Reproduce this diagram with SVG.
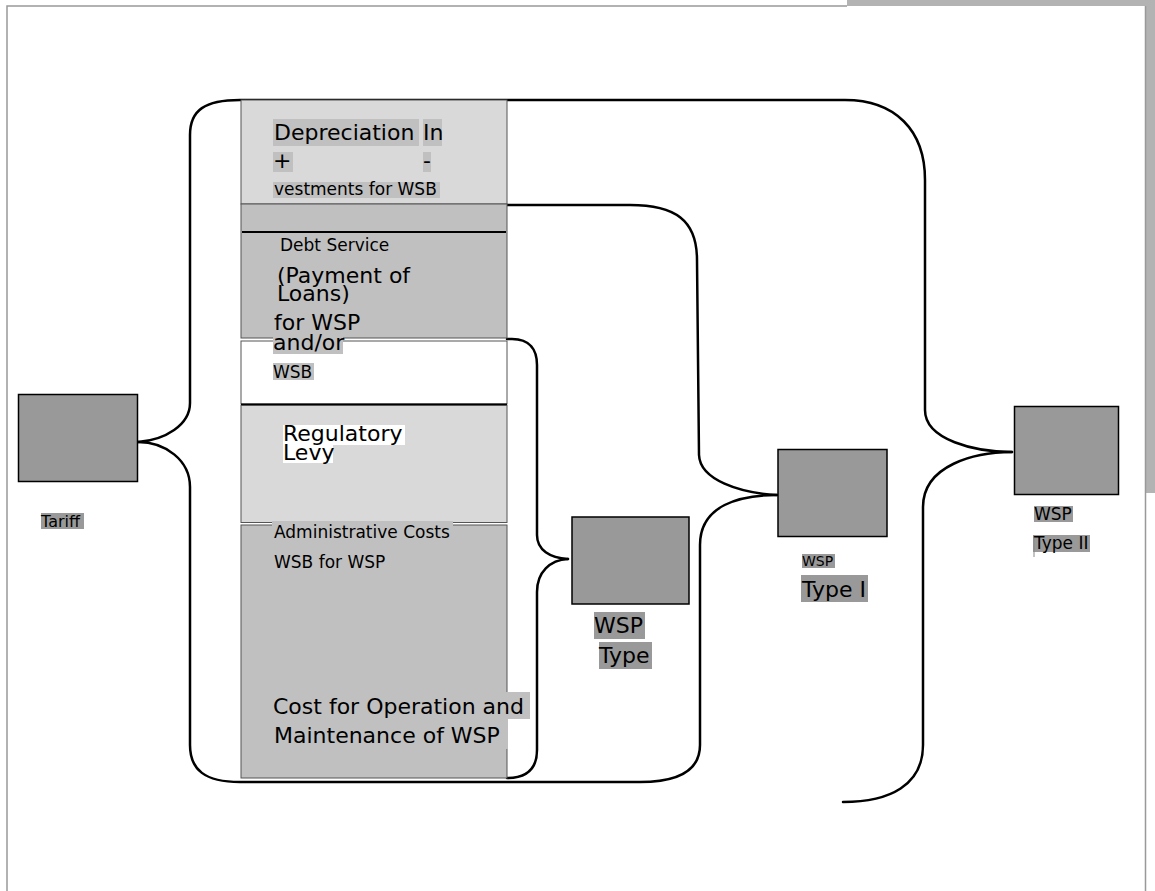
<svg xmlns="http://www.w3.org/2000/svg" width="1155" height="891" viewBox="0 0 1155 891">
<style>
text{font-family:"DejaVu Sans","Liberation Sans",sans-serif;fill:#000}
.b{font-size:22px}
.s{font-size:17px}
.box{fill:#999999;stroke:#000;stroke-width:1.5}
.hl{fill:#c0c0c0}
.hd{fill:#999999}
.hw{fill:#ffffff}
.br{fill:none;stroke:#000;stroke-width:2.5;stroke-linecap:round;stroke-linejoin:round}
.sec{stroke:#555;stroke-width:1}
</style>
<rect x="0" y="0" width="1155" height="891" fill="#ffffff"/>
<g id="page">
<rect x="847" y="0" width="308" height="6" fill="#b3b3b3"/>
<rect x="1146" y="0" width="9" height="493" fill="#b3b3b3"/>
<path d="M7,891 L7,6 L847,6" fill="none" stroke="#999" stroke-width="1.5"/>
<path d="M1145.5,6 L1145.5,891" fill="none" stroke="#999" stroke-width="1.5"/>
</g>
<g id="connectors">
<path class="br" d="M138,442 C165,440 190,425 190,403 L190,135 C190,110 205,100 240,100 L845,100 C895,100 925,130 925,180 L925,410 C925,440 975,452 1012,452"/>
<path class="br" d="M1012,452 C975,452 923,465 923,507 L923,745 C923,785 890,802 843,802"/>
<path class="br" d="M138,442 C165,442 190,460 190,487 L190,745 C190,770 205,782 240,782 L640,782 C680,782 700,770 700,745 L700,545 C700,505 740,495 777,495"/>
<path class="br" d="M507,205 L630,205 C675,205 697,220 697,260 L699,455 C700,480 740,493 777,495"/>
<path class="br" d="M507,339 L512,339 C530,339 537,350 537,365 L537,535 C537,550 550,558 568,559"/>
<path class="br" d="M568,559 C550,560 537,572 537,592 L537,750 C537,770 525,778 507,778"/>
</g>
<g id="sec-depreciation">
<rect class="sec" x="241" y="100" width="266" height="104" fill="#d9d9d9"/>
<rect class="hl" x="273" y="119" width="146" height="27"/>
<rect class="hl" x="423" y="119" width="19" height="27"/>
<rect class="hl" x="273" y="152" width="20" height="20"/>
<rect class="hl" x="423" y="152" width="8" height="20"/>
<rect class="hl" x="273" y="182" width="167" height="16"/>
<text class="b" x="274" y="139.5">Depreciation</text>
<text class="b" x="423" y="139.5">In</text>
<text class="b" x="273" y="168">+</text>
<text class="b" x="423" y="168">-</text>
<text class="s" x="274" y="194.5">vestments for WSB</text>
</g>
<g id="sec-debt">
<rect class="sec" x="241" y="204" width="266" height="134" fill="#c0c0c0"/>
<line x1="242" y1="232" x2="506" y2="232" stroke="#000" stroke-width="2"/>
<text class="s" x="280" y="250.5">Debt Service</text>
<text class="b" x="277" y="283">(Payment of</text>
<text class="b" x="277" y="301">Loans)</text>
<text class="b" x="274" y="330">for WSP</text>
</g>
<g id="sec-wsb">
<rect x="241" y="341" width="266" height="63" fill="#ffffff" stroke="#555" stroke-width="1"/>
<line x1="241" y1="404.5" x2="507" y2="404.5" stroke="#000" stroke-width="2"/>
<rect class="hl" x="273" y="336" width="70" height="18"/>
<text class="b" x="273" y="350">and/or</text>
<rect class="hl" x="273" y="363" width="41" height="17"/>
<text class="s" x="273" y="377.5">WSB</text>
</g>
<g id="sec-levy">
<rect class="sec" x="241" y="405.5" width="266" height="117" fill="#d9d9d9"/>
<rect class="hw" x="283" y="425" width="122" height="20"/>
<rect class="hw" x="283" y="445" width="50" height="18"/>
<text class="b" x="283" y="441">Regulatory</text>
<text class="b" x="283" y="459.5">Levy</text>
</g>
<g id="sec-admin">
<rect class="sec" x="241" y="525" width="266" height="253" fill="#c0c0c0"/>
<rect class="hl" x="272" y="521" width="181" height="19"/>
<text class="s" x="274" y="537.5">Administrative Costs</text>
<text class="s" x="274" y="567.5">WSB for WSP</text>
<rect class="hl" x="272" y="692" width="258" height="27"/>
<rect class="hl" x="272" y="719" width="236" height="30"/>
<text class="b" x="273" y="713.5">Cost for Operation and</text>
<text class="b" x="274" y="742.5">Maintenance of WSP</text>
</g>
<g id="tariff">
<rect class="box" x="18.5" y="394.5" width="119" height="87"/>
<rect class="hd" x="41" y="513" width="43" height="16"/>
<text x="41" y="527" style="font-size:16px">Tariff</text>
</g>
<g id="wsp-type">
<rect class="box" x="572" y="517" width="117" height="87"/>
<rect class="hd" x="594" y="612" width="51" height="27"/>
<rect class="hd" x="599" y="642" width="53" height="27"/>
<text class="b" x="594" y="632.5">WSP</text>
<text class="b" x="599" y="662.5">Type</text>
</g>
<g id="wsp-type-1">
<rect class="box" x="778" y="449.5" width="109" height="87"/>
<rect class="hd" x="802" y="554" width="33" height="14"/>
<text x="802" y="565.5" style="font-size:14px">WSP</text>
<rect class="hd" x="801" y="575" width="67" height="27"/>
<text class="b" x="802" y="596.5">Type I</text>
</g>
<g id="wsp-type-2">
<rect class="box" x="1014.5" y="406.5" width="104" height="88"/>
<rect class="hd" x="1034" y="506" width="39" height="16"/>
<text class="s" x="1034" y="519.5">WSP</text>
<rect class="hd" x="1033" y="535" width="57" height="17"/>
<line x1="1034" y1="535" x2="1034" y2="557" stroke="#888" stroke-width="1"/>
<text class="s" x="1034" y="548.5">Type II</text>
</g>
</svg>
